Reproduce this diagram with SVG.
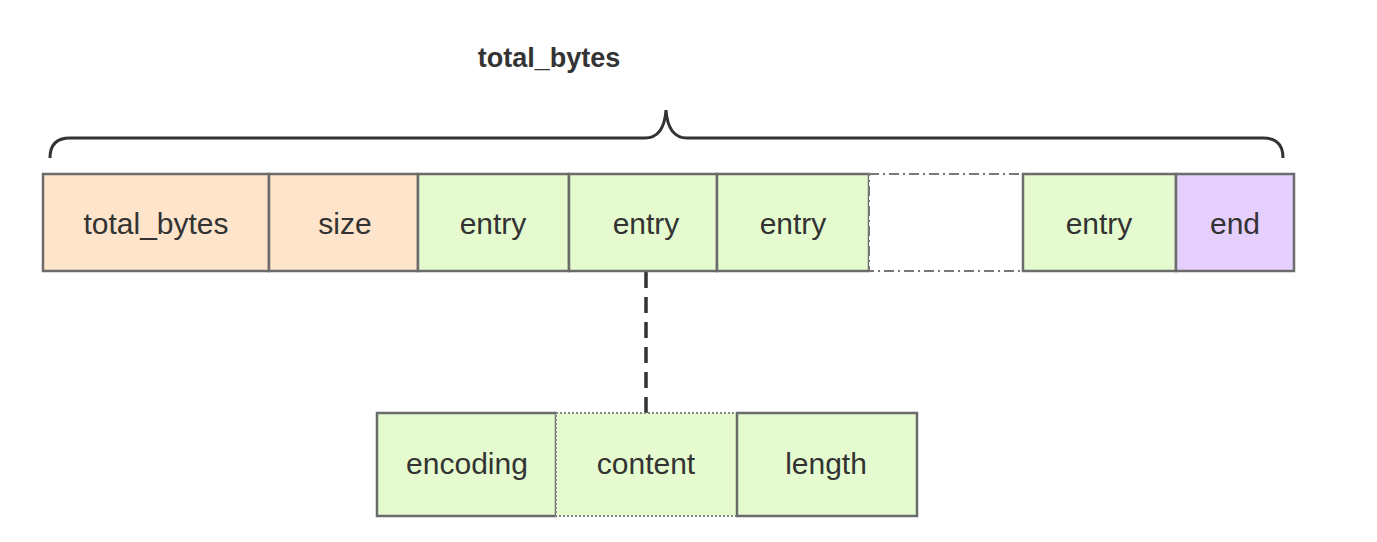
<svg xmlns="http://www.w3.org/2000/svg" width="1377" height="542" viewBox="0 0 1377 542">
<style>
.box{stroke:#6b6b6b;stroke-width:2.5}
.o{fill:#fde4ca}
.g{fill:#e5fbcf}
.p{fill:#e5cffc}
.t{font-family:"Liberation Sans",Arial,sans-serif;font-size:30px;fill:#333;text-anchor:middle;dominant-baseline:central}
</style>
<rect width="1377" height="542" fill="#fff"/>
<text x="549" y="58" class="t" style="font-size:27px;font-weight:bold;fill:#333">total_bytes</text>
<g id="connectors">
<path d="M50,158 Q50,138 70,138 L645,138 Q664,138 666,110 Q668,138 687,138 L1263,138 Q1283,138 1283,158" fill="none" stroke="#333" stroke-width="3"/>
<line x1="646" y1="272" x2="646" y2="413" stroke="#333" stroke-width="3.5" stroke-dasharray="16,9"/>
</g>
<g id="n-total_bytes"><rect class="box o" x="43" y="174" width="226" height="97"/><text class="t" x="156" y="223">total_bytes</text></g>
<g id="n-size"><rect class="box o" x="269" y="174" width="149" height="97"/><text class="t" x="345" y="223">size</text></g>
<g id="n-entry1"><rect class="box g" x="418" y="174" width="151" height="97"/><text class="t" x="493" y="223">entry</text></g>
<g id="n-entry2"><rect class="box g" x="569" y="174" width="148" height="97"/><text class="t" x="646" y="223">entry</text></g>
<g id="n-entry3"><rect class="box g" x="717" y="174" width="152" height="97"/><text class="t" x="793" y="223">entry</text></g>
<g id="n-gap"><rect x="869" y="174" width="154" height="97" fill="#fff" stroke="#777" stroke-width="2" stroke-dasharray="10,4,2,4"/></g>
<g id="n-entry4"><rect class="box g" x="1023" y="174" width="153" height="97"/><text class="t" x="1099" y="223">entry</text></g>
<g id="n-end"><rect class="box p" x="1176" y="174" width="118" height="97"/><text class="t" x="1235" y="223">end</text></g>
<g id="n-encoding"><rect class="box g" x="377" y="413" width="179" height="103"/><text class="t" x="467" y="463">encoding</text></g>
<g id="n-content"><rect class="g" x="556" y="413" width="181" height="103" stroke="#888" stroke-width="2" stroke-dasharray="2,2"/><text class="t" x="646" y="463">content</text></g>
<g id="n-length"><rect class="box g" x="737" y="413" width="180" height="103"/><text class="t" x="826" y="463">length</text></g>
</svg>
